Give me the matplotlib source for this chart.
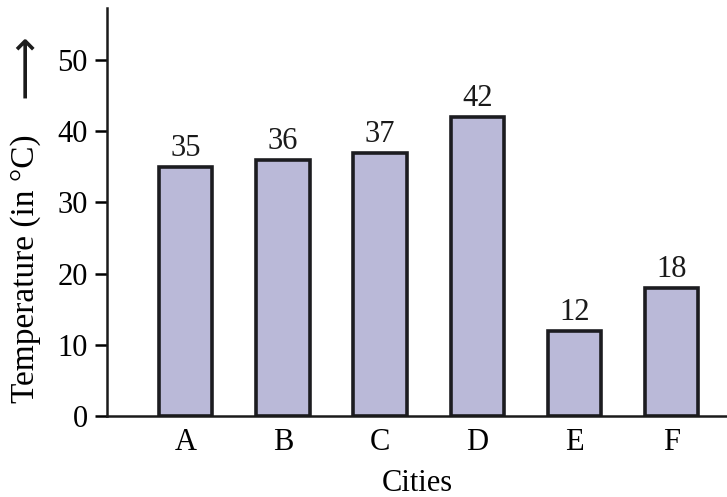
import matplotlib
matplotlib.use("Agg")
import matplotlib.pyplot as plt

cities = ["A", "B", "C", "D", "E", "F"]
temperatures = [35, 36, 37, 42, 12, 18]
yticks = [0, 10, 20, 30, 40, 50]

serif = ["Liberation Serif", "DejaVu Serif"]
plt.rcParams["font.family"] = serif

fig = plt.figure(figsize=(7.27, 4.97), dpi=100)
ax = fig.add_axes([107/727, 1-416/497, 1-107/727, (416-8)/497])

x = list(range(len(cities)))
bars = ax.bar(x, temperatures, width=0.55, color="#bab9d8",
              edgecolor="#1c1c20", linewidth=2.6)
for xi, v in zip(x, temperatures):
    ax.text(xi, v + 0.5, str(v), ha="center", va="bottom", fontsize=22,
            color="#1a1a1a")

ax.set_xlim(-0.81, 5.57)
ax.set_ylim(0, 57.3)
ax.set_xticks(x)
ax.set_xticklabels(cities, fontsize=22)
ax.set_yticks(yticks)
ax.set_yticklabels([str(t) for t in yticks], fontsize=22)
ax.tick_params(axis="x", length=0, pad=9)
ax.tick_params(axis="y", length=9, width=1.8, pad=5, direction="out")
for s in ["top", "right"]:
    ax.spines[s].set_visible(False)
for s in ["left", "bottom"]:
    ax.spines[s].set_linewidth(1.8)
    ax.spines[s].set_color("#1a1a1a")

ax.set_xlabel("Cities", fontsize=22, labelpad=8)
ax.set_ylabel("Temperature (in °C)", fontsize=24)
ax.yaxis.set_label_coords(-0.107, 0.36)
fig.text(24/727, 1-66/497, "\u27f6", rotation=90, ha="center", va="center",
         fontsize=32, family=["DejaVu Sans"], color="#1a1a1a")

fig.savefig("out.png", dpi=100)
